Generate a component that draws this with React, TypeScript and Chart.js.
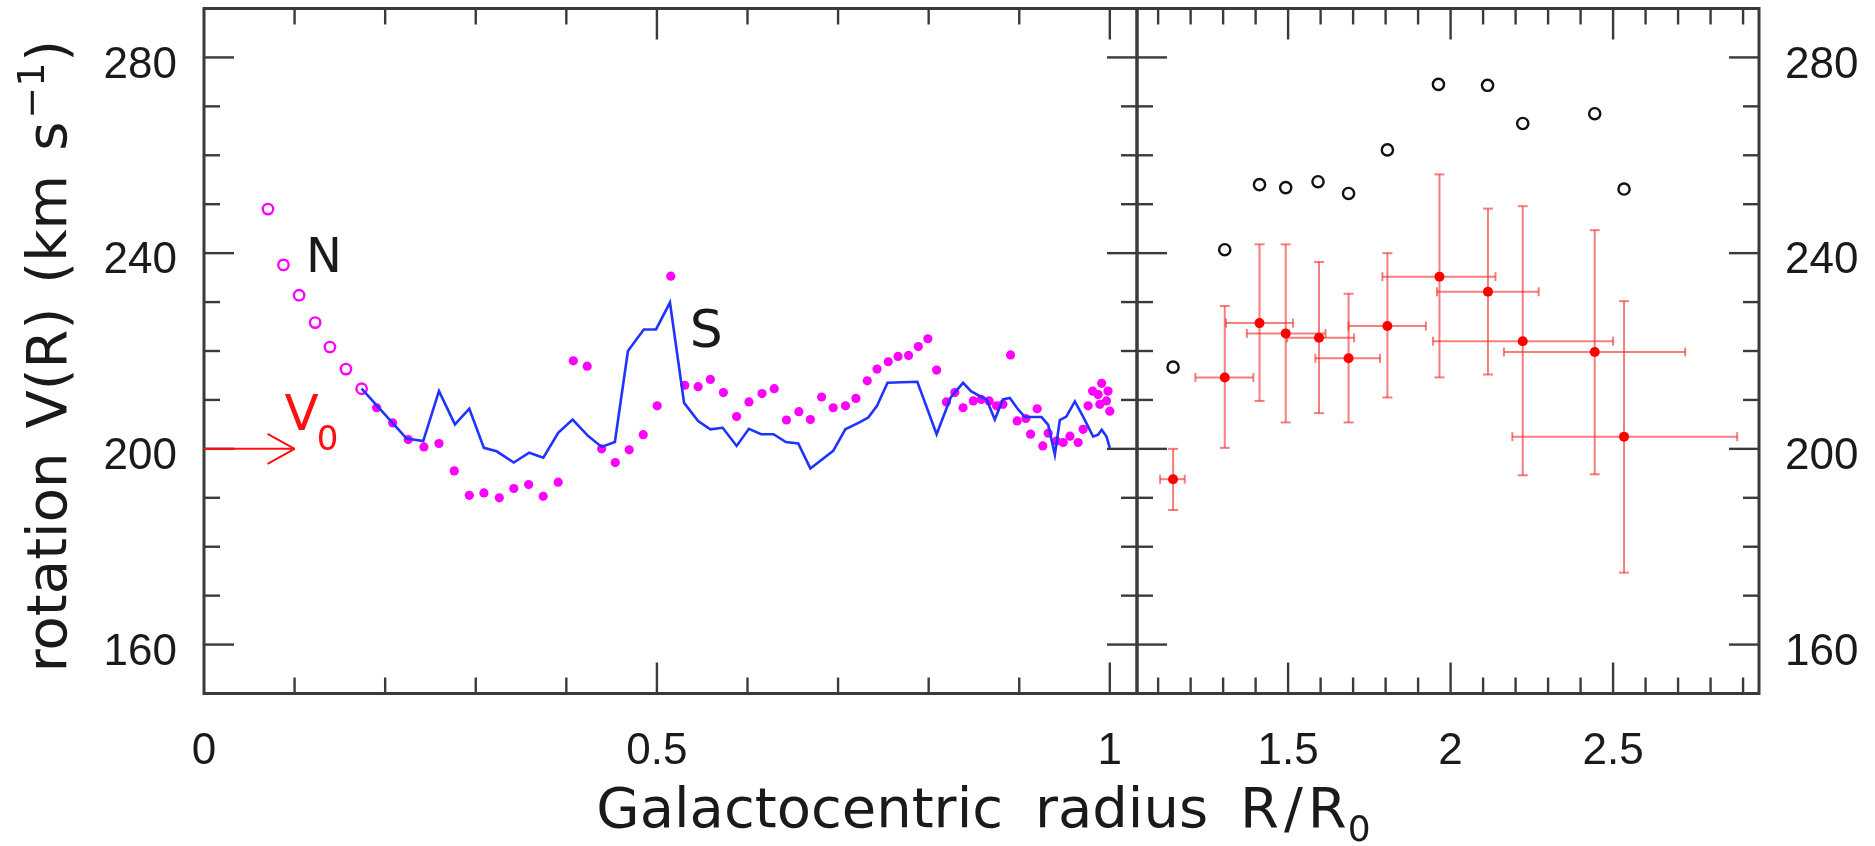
import React, { useEffect, useRef } from 'react';
import { Chart, registerables } from 'chart.js';

Chart.register(...registerables);

// ---------- data ----------
// inner Galaxy, northern tangent points (open magenta circles)
const N_R = [0.0706, 0.0877, 0.105, 0.1227, 0.139, 0.1567, 0.174];
const N_V = [249.0, 237.6, 231.4, 225.8, 220.8, 216.3, 212.3];

// inner Galaxy, filled magenta dots
const DOT_R = [
  0.1906, 0.2083, 0.2255, 0.2428, 0.2594, 0.2763, 0.2929, 0.309, 0.326, 0.342,
  0.3584, 0.3745, 0.391, 0.4077, 0.423, 0.439, 0.454, 0.4694, 0.4849, 0.5003,
  0.5153, 0.5308, 0.5455, 0.559, 0.5734, 0.588, 0.6016, 0.616, 0.6295, 0.643,
  0.6567, 0.6694, 0.6818, 0.6946, 0.7082, 0.7197, 0.7322, 0.743, 0.7554, 0.7662,
  0.7778, 0.7886, 0.7991, 0.8088, 0.8196, 0.8289, 0.838, 0.8492, 0.858, 0.8668,
  0.875, 0.882, 0.8904, 0.8977, 0.9073, 0.9125, 0.9198, 0.926, 0.932, 0.941,
  0.9485, 0.956, 0.965, 0.9705, 0.976, 0.981, 0.987, 0.989, 0.991, 0.9963,
  0.998, 1.0,
];
const DOT_V = [
  208.4, 205.3, 201.9, 200.4, 201.1, 195.5, 190.5, 191.0, 190.0, 191.9,
  192.7, 190.3, 193.2, 218.0, 216.9, 200.0, 197.2, 199.8, 202.9, 208.8,
  235.3, 213.0, 212.7, 214.2, 211.5, 206.6, 209.6, 211.3, 212.3, 205.9,
  207.6, 206.0, 210.6, 208.4, 208.8, 210.3, 213.9, 216.3, 217.8, 218.9,
  219.1, 220.9, 222.5, 216.1, 209.6, 211.5, 208.4, 209.8, 210.1, 209.8,
  208.8, 209.1, 219.2, 205.7, 206.2, 203.0, 208.2, 200.6, 203.2, 201.6,
  201.3, 202.6, 201.3, 204.0, 208.8, 211.8, 211.1, 209.1, 213.4, 209.8,
  211.8, 207.7,
];

// inner Galaxy, southern curve (blue line)
const LINE_R = [
  0.174, 0.2237, 0.242, 0.2594, 0.277, 0.2929, 0.309, 0.323, 0.342, 0.359,
  0.3746, 0.391, 0.4069, 0.4242, 0.439, 0.4536, 0.468, 0.4855, 0.499, 0.5144,
  0.53, 0.5455, 0.559, 0.5726, 0.588, 0.6016, 0.615, 0.6287, 0.6424, 0.656,
  0.6694, 0.6946, 0.708, 0.7236, 0.7333, 0.743, 0.7546, 0.7875, 0.8088, 0.8243,
  0.838, 0.8467, 0.8565, 0.864, 0.873, 0.882, 0.8896, 0.899, 0.9062, 0.9246,
  0.932, 0.9393, 0.9448, 0.952, 0.9614, 0.9705, 0.9816, 0.987, 0.991, 0.9963,
  1.0,
];
const LINE_V = [
  212.3, 202.1, 201.6, 211.8, 205.0, 208.2, 200.2, 199.5, 197.2, 199.2,
  198.2, 203.3, 206.0, 202.6, 200.4, 201.4, 220.0, 224.4, 224.4, 229.9,
  209.4, 205.7, 204.0, 204.3, 200.6, 204.1, 203.0, 203.0, 201.4, 201.1,
  196.0, 199.6, 204.0, 205.4, 206.4, 208.8, 213.5, 213.7, 203.0, 210.5,
  213.5, 211.8, 210.8, 210.1, 206.0, 210.1, 210.4, 208.0, 206.5, 206.5,
  204.9, 198.8, 205.9, 206.6, 209.7, 206.6, 202.5, 202.9, 203.9, 202.5,
  200.2,
];

// outer Galaxy, open black circles
const OUT_R = [1.146, 1.305, 1.412, 1.4926, 1.592, 1.686, 1.8055, 1.9626, 2.1137, 2.222, 2.4435, 2.5337];
const OUT_V = [216.7, 240.7, 254.0, 253.4, 254.6, 252.2, 261.1, 274.5, 274.3, 266.5, 268.5, 253.1];

// outer Galaxy, red points with error bars
const ERR_R = [1.146, 1.305, 1.412, 1.4926, 1.595, 1.686, 1.8055, 1.9657, 2.115, 2.222, 2.4435, 2.5337];
const ERR_V = [193.8, 214.6, 225.7, 223.6, 222.7, 218.5, 225.1, 235.2, 232.1, 222.0, 219.8, 202.5];
const ERR_RLO = [1.106, 1.2146, 1.309, 1.373, 1.497, 1.584, 1.686, 1.79, 1.958, 1.946, 2.164, 2.19];
const ERR_RHI = [1.182, 1.393, 1.515, 1.615, 1.703, 1.783, 1.924, 2.138, 2.271, 2.5, 2.722, 2.882];
const ERR_VLO = [187.5, 200.2, 209.8, 205.4, 207.3, 205.4, 210.5, 214.6, 215.2, 194.6, 194.8, 174.7];
const ERR_VHI = [200.0, 229.2, 241.8, 241.8, 238.2, 231.7, 240.0, 256.1, 249.1, 249.6, 244.7, 230.2];

// ticks and labels
const Y_LABELS = [160, 200, 240, 280];
const X_LABELS_INNER = [0, 0.5, 1];
const X_LABELS_OUTER = [1.5, 2, 2.5];
const V0 = 200;

// ---------- layout ----------
const W = 1875;
const H = 846;
const PX_LEFT = 204;
const PX_SPLIT = 1137;
const PX_RIGHT = 1759;
const PX_TOP = 8.5;
const PX_BOTTOM = 693.5;

const V_MIN = 150;
const V_MAX = 290;
const INNER_MAX = 1.03;
const OUTER_MIN = 1.035;
const OUTER_MAX = 2.949;

const FRAME = '#3a3a3a';
const TEXT = '#1a1a1a';
const NUM_FONT = "'Liberation Sans', Arial, sans-serif";
const TITLE_FONT = "'DejaVu Sans', sans-serif";

function line(ctx: CanvasRenderingContext2D, x1: number, y1: number, x2: number, y2: number) {
  ctx.beginPath();
  ctx.moveTo(x1, y1);
  ctx.lineTo(x2, y2);
  ctx.stroke();
}

const decor = {
  id: 'decor',
  beforeDatasetsDraw(chart: any) {
    const ctx: CanvasRenderingContext2D = chart.ctx;
    const xs = chart.scales.x2;
    const ys = chart.scales.y;
    ctx.save();
    ctx.strokeStyle = 'rgba(238,40,40,0.6)';
    ctx.lineWidth = 2;
    for (let i = 0; i < ERR_R.length; i++) {
      const px = xs.getPixelForValue(ERR_R[i]);
      const py = ys.getPixelForValue(ERR_V[i]);
      const xl = xs.getPixelForValue(ERR_RLO[i]);
      const xh = xs.getPixelForValue(ERR_RHI[i]);
      const yl = ys.getPixelForValue(ERR_VLO[i]);
      const yh = ys.getPixelForValue(ERR_VHI[i]);
      line(ctx, xl, py, xh, py);
      line(ctx, px, yl, px, yh);
      line(ctx, xl, py - 4.5, xl, py + 4.5);
      line(ctx, xh, py - 4.5, xh, py + 4.5);
      line(ctx, px - 5, yl, px + 5, yl);
      line(ctx, px - 5, yh, px + 5, yh);
    }
    ctx.restore();
  },
  afterDatasetsDraw(chart: any) {
    const ctx: CanvasRenderingContext2D = chart.ctx;
    const xi = chart.scales.x;
    const xo = chart.scales.x2;
    const ys = chart.scales.y;
    const left = xi.getPixelForValue(0);
    const split = xi.getPixelForValue(INNER_MAX);
    const right = xo.getPixelForValue(OUTER_MAX);
    const top = ys.getPixelForValue(V_MAX);
    const bottom = ys.getPixelForValue(V_MIN);

    ctx.save();
    // ticks
    ctx.strokeStyle = FRAME;
    ctx.lineWidth = 2.4;
    for (let v = 160; v <= 280; v += 10) {
      const y = ys.getPixelForValue(v);
      const len = v % 40 === 0 ? 30 : 16;
      line(ctx, left, y, left + len, y);
      line(ctx, split, y, split - len, y);
      line(ctx, split, y, split + len, y);
      line(ctx, right, y, right - len, y);
    }
    for (let k = 1; k <= 10; k++) {
      const x = xi.getPixelForValue(k / 10);
      const len = k % 5 === 0 ? 31 : 16;
      line(ctx, x, bottom, x, bottom - len);
      line(ctx, x, top, x, top + len);
    }
    for (let k = 11; k <= 29; k++) {
      const x = xo.getPixelForValue(k / 10);
      const len = k % 5 === 0 ? 31 : 16;
      line(ctx, x, bottom, x, bottom - len);
      line(ctx, x, top, x, top + len);
    }
    // frames
    ctx.lineWidth = 3;
    ctx.strokeRect(left, top, split - left, bottom - top);
    ctx.strokeRect(split, top, right - split, bottom - top);

    // V0 arrow
    const ay = ys.getPixelForValue(V0);
    const ax = xi.getPixelForValue(0.1);
    ctx.strokeStyle = '#ff1010';
    ctx.lineWidth = 2;
    line(ctx, left, ay, ax, ay);
    line(ctx, ax - 27, ay - 15, ax, ay);
    line(ctx, ax - 27, ay + 15, ax, ay);
    ctx.fillStyle = '#ff1010';
    ctx.textAlign = 'left';
    ctx.textBaseline = 'alphabetic';
    ctx.font = `50px ${TITLE_FONT}`;
    const vx = xi.getPixelForValue(0.089);
    ctx.fillText('V', vx, ys.getPixelForValue(203.85));
    const vw = ctx.measureText('V').width;
    ctx.font = `34px ${TITLE_FONT}`;
    ctx.fillText('0', vx + vw - 2, ys.getPixelForValue(199.8));

    // N and S labels
    ctx.fillStyle = TEXT;
    ctx.textAlign = 'center';
    ctx.font = `48px ${TITLE_FONT}`;
    ctx.fillText('N', xi.getPixelForValue(0.1325), ys.getPixelForValue(236.1));
    ctx.font = `52px ${TITLE_FONT}`;
    ctx.fillText('S', xi.getPixelForValue(0.5546), ys.getPixelForValue(220.8));

    // x title
    const XGAP = 32;
    ctx.textAlign = 'left';
    ctx.font = `56px ${TITLE_FONT}`;
    const parts = ['Galactocentric', 'radius', 'R', '/', 'R'];
    const extra = [XGAP, XGAP, 5, 5, 1];
    const pw = parts.map((w) => ctx.measureText(w).width);
    ctx.font = `36px ${TITLE_FONT}`;
    const subW = ctx.measureText('0').width;
    const totalX = pw.reduce((a, b) => a + b, 0) + extra.reduce((a, b) => a + b, 0) + subW;
    let cx = (left + right) / 2 + 2 - totalX / 2;
    const tb = 827;
    ctx.font = `56px ${TITLE_FONT}`;
    parts.forEach((w, i) => {
      ctx.fillText(w, cx, tb);
      cx += pw[i] + extra[i];
    });
    ctx.font = `36px ${TITLE_FONT}`;
    ctx.fillText('0', cx, tb + 14);

    // y title (rotated)
    const YGAP = 24;
    ctx.font = `56px ${TITLE_FONT}`;
    const yWords = ['rotation', 'V(R)', '(km', 's'];
    const yw = yWords.map((w) => ctx.measureText(w).width);
    const close = ctx.measureText(')').width;
    ctx.font = `38px ${TITLE_FONT}`;
    const supW = ctx.measureText('\u22121').width;
    const totalY = yw.reduce((a, b) => a + b, 0) + YGAP * 3 + 3 + supW + 1 + close;
    const midY = (top + bottom) / 2 + 5;
    ctx.translate(66, midY + totalY / 2);
    ctx.rotate(-Math.PI / 2);
    let tx = 0;
    ctx.font = `56px ${TITLE_FONT}`;
    yWords.forEach((w, i) => {
      ctx.fillText(w, tx, 0);
      tx += yw[i] + (i < 3 ? YGAP : 3);
    });
    ctx.font = `38px ${TITLE_FONT}`;
    ctx.fillText('\u22121', tx, -22);
    tx += supW + 1;
    ctx.font = `56px ${TITLE_FONT}`;
    ctx.fillText(')', tx, 0);
    ctx.restore();
  },
};

function pts(xs: number[], ys: number[]) {
  return xs.map((x, i) => ({ x, y: ys[i] }));
}

const noPad = (s: any) => {
  s.paddingTop = 0;
  s.paddingBottom = 0;
  s.paddingLeft = 0;
  s.paddingRight = 0;
};

export default function App() {
  const ref = useRef<HTMLCanvasElement>(null);

  useEffect(() => {
    const canvas = ref.current;
    if (!canvas) return;
    const numTicks = {
      font: { family: NUM_FONT, size: 44 },
      color: TEXT,
    };
    const xTicks = {
      ...numTicks,
      autoSkip: false,
      maxRotation: 0,
      minRotation: 0,
      padding: 32,
      callback: (v: any) => String(v),
    };
    const chart = new Chart(canvas, {
      type: 'scatter',
      data: {
        datasets: [
          {
            label: 'south',
            data: pts(LINE_R, LINE_V),
            showLine: true,
            borderColor: '#1f35ff',
            borderWidth: 2.6,
            pointRadius: 0,
            tension: 0,
            xAxisID: 'x',
            yAxisID: 'y',
          },
          {
            label: 'north',
            data: pts(N_R, N_V),
            pointStyle: 'circle',
            pointRadius: 5.2,
            pointBorderWidth: 2.4,
            pointBackgroundColor: 'rgba(255,255,255,0)',
            pointBorderColor: '#ff00ff',
            xAxisID: 'x',
            yAxisID: 'y',
          },
          {
            label: 'dots',
            data: pts(DOT_R, DOT_V),
            pointStyle: 'circle',
            pointRadius: 4.6,
            pointBorderWidth: 0,
            pointBackgroundColor: '#ff00ff',
            pointBorderColor: '#ff00ff',
            xAxisID: 'x',
            yAxisID: 'y',
          },
          {
            label: 'red',
            data: pts(ERR_R, ERR_V),
            pointStyle: 'circle',
            pointRadius: 5,
            pointBorderWidth: 0,
            pointBackgroundColor: '#ff0000',
            pointBorderColor: '#ff0000',
            xAxisID: 'x2',
            yAxisID: 'y',
          },
          {
            label: 'outer',
            data: pts(OUT_R, OUT_V),
            pointStyle: 'circle',
            pointRadius: 5.6,
            pointBorderWidth: 2.4,
            pointBackgroundColor: 'rgba(255,255,255,0)',
            pointBorderColor: '#111111',
            xAxisID: 'x2',
            yAxisID: 'y',
          },
        ],
      },
      options: {
        responsive: false,
        animation: false,
        devicePixelRatio: 1,
        events: [],
        layout: { autoPadding: false, padding: { top: PX_TOP, bottom: 0, left: 0, right: 0 } },
        plugins: { legend: { display: false }, tooltip: { enabled: false }, title: { display: false } },
        scales: {
          x: {
            type: 'linear',
            position: 'bottom',
            stack: 'radius',
            stackWeight: PX_SPLIT - PX_LEFT,
            weight: 0,
            min: 0,
            max: INNER_MAX,
            grid: { display: false, drawTicks: false },
            border: { display: false },
            afterBuildTicks: (s: any) => {
              s.ticks = X_LABELS_INNER.map((v) => ({ value: v }));
            },
            afterFit: (s: any) => {
              s.height = H - PX_BOTTOM;
              noPad(s);
            },
            ticks: xTicks,
          },
          x2: {
            type: 'linear',
            position: 'bottom',
            stack: 'radius',
            stackWeight: PX_RIGHT - PX_SPLIT,
            weight: 1,
            min: OUTER_MIN,
            max: OUTER_MAX,
            grid: { display: false, drawTicks: false },
            border: { display: false },
            afterBuildTicks: (s: any) => {
              s.ticks = X_LABELS_OUTER.map((v) => ({ value: v }));
            },
            afterFit: (s: any) => {
              s.height = H - PX_BOTTOM;
              noPad(s);
            },
            ticks: xTicks,
          },
          y: {
            type: 'linear',
            position: 'left',
            min: V_MIN,
            max: V_MAX,
            grid: { display: false, drawTicks: false },
            border: { display: false },
            afterBuildTicks: (s: any) => {
              s.ticks = Y_LABELS.map((v) => ({ value: v }));
            },
            afterFit: (s: any) => {
              s.width = PX_LEFT;
              noPad(s);
            },
            ticks: { ...numTicks, padding: 27, labelOffset: 8, callback: (v: any) => String(v) },
          },
          y2: {
            type: 'linear',
            position: 'right',
            min: V_MIN,
            max: V_MAX,
            grid: { display: false, drawTicks: false },
            border: { display: false },
            afterBuildTicks: (s: any) => {
              s.ticks = Y_LABELS.map((v) => ({ value: v }));
            },
            afterFit: (s: any) => {
              s.width = W - PX_RIGHT;
              noPad(s);
            },
            ticks: { ...numTicks, padding: 26, labelOffset: 8, callback: (v: any) => String(v) },
          },
        },
      } as any,
      plugins: [decor],
    });
    return () => chart.destroy();
  }, []);

  return (
    <div style={{ position: 'fixed', left: 0, top: 0, width: W, height: H, background: '#ffffff' }}>
      <canvas ref={ref} width={W} height={H} style={{ width: W, height: H, display: 'block' }} />
    </div>
  );
}
